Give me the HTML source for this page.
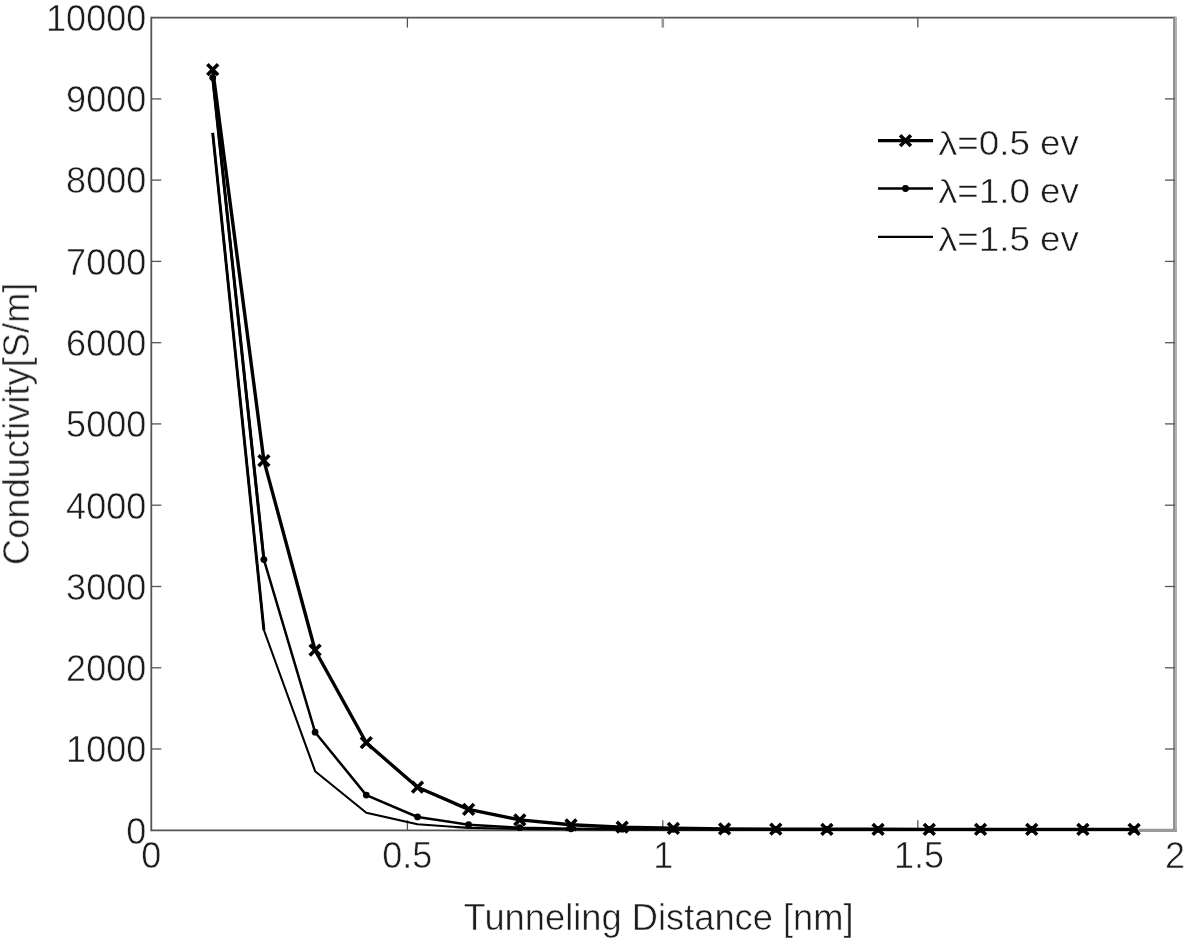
<!DOCTYPE html><html><head><meta charset="utf-8"><title>Conductivity vs Tunneling Distance</title>
<style>html,body{margin:0;padding:0;background:#fff}svg{display:block}text{font-family:"Liberation Sans",sans-serif;fill:#1c1c1c;stroke:#fff;stroke-width:0.55px}</style></head><body>
<svg width="1189" height="940" viewBox="0 0 1189 940">
<defs><filter id="soft" x="0" y="0" width="100%" height="100%" filterUnits="userSpaceOnUse" color-interpolation-filters="sRGB"><feGaussianBlur stdDeviation="0.55"/></filter></defs>
<rect width="1189" height="940" fill="#fff"/>
<g filter="url(#soft)">
<g stroke="#555" stroke-width="1.8" fill="none">
<line x1="151.3" y1="17.6" x2="1176.0" y2="17.6"/>
<line x1="151.3" y1="16.7" x2="151.3" y2="831.2"/>
<line x1="151.3" y1="830.3" x2="1176.0" y2="830.3"/>
</g>
<line x1="1174.1" y1="16.7" x2="1174.1" y2="831.7" stroke="#8a8a8a" stroke-width="2"/>
<line x1="1176.0" y1="16.7" x2="1176.0" y2="831.7" stroke="#b2b2b2" stroke-width="2"/>
<line x1="1139" y1="830.4" x2="1177.0" y2="830.4" stroke="#9a9a9a" stroke-width="3.2"/>
<g stroke="#555" stroke-width="1.3">
<line x1="151.3" y1="749.0" x2="161.3" y2="749.0"/>
<line x1="1175.0" y1="749.0" x2="1165.0" y2="749.0"/>
<line x1="151.3" y1="667.8" x2="161.3" y2="667.8"/>
<line x1="1175.0" y1="667.8" x2="1165.0" y2="667.8"/>
<line x1="151.3" y1="586.5" x2="161.3" y2="586.5"/>
<line x1="1175.0" y1="586.5" x2="1165.0" y2="586.5"/>
<line x1="151.3" y1="505.2" x2="161.3" y2="505.2"/>
<line x1="1175.0" y1="505.2" x2="1165.0" y2="505.2"/>
<line x1="151.3" y1="423.9" x2="161.3" y2="423.9"/>
<line x1="1175.0" y1="423.9" x2="1165.0" y2="423.9"/>
<line x1="151.3" y1="342.7" x2="161.3" y2="342.7"/>
<line x1="1175.0" y1="342.7" x2="1165.0" y2="342.7"/>
<line x1="151.3" y1="261.4" x2="161.3" y2="261.4"/>
<line x1="1175.0" y1="261.4" x2="1165.0" y2="261.4"/>
<line x1="151.3" y1="180.1" x2="161.3" y2="180.1"/>
<line x1="1175.0" y1="180.1" x2="1165.0" y2="180.1"/>
<line x1="151.3" y1="98.9" x2="161.3" y2="98.9"/>
<line x1="1175.0" y1="98.9" x2="1165.0" y2="98.9"/>
<line x1="407.4" y1="830.3" x2="407.4" y2="820.3"/>
<line x1="407.4" y1="17.6" x2="407.4" y2="27.6"/>
<line x1="662.8" y1="830.3" x2="662.8" y2="820.3"/>
<line x1="662.8" y1="17.6" x2="662.8" y2="27.6" stroke="#999" stroke-width="2.6"/>
<line x1="917.8" y1="830.3" x2="917.8" y2="820.3"/>
<line x1="917.8" y1="17.6" x2="917.8" y2="27.6"/>
</g>
<g font-size="37" text-anchor="end">
<text transform="translate(146.2,843.6) scale(0.973,1)">0</text>
<text transform="translate(146.2,762.3) scale(0.973,1)">1000</text>
<text transform="translate(146.2,681.1) scale(0.973,1)">2000</text>
<text transform="translate(146.2,599.8) scale(0.973,1)">3000</text>
<text transform="translate(146.2,518.5) scale(0.973,1)">4000</text>
<text transform="translate(146.2,437.2) scale(0.973,1)">5000</text>
<text transform="translate(146.2,356.0) scale(0.973,1)">6000</text>
<text transform="translate(146.2,274.7) scale(0.973,1)">7000</text>
<text transform="translate(146.2,193.4) scale(0.973,1)">8000</text>
<text transform="translate(146.2,112.2) scale(0.973,1)">9000</text>
<text transform="translate(146.2,30.9) scale(0.973,1)">10000</text>
</g>
<g font-size="37" text-anchor="middle">
<text transform="translate(151.3,868) scale(0.973,1)">0</text>
<text transform="translate(407.2,868) scale(0.973,1)">0.5</text>
<text transform="translate(663.2,868) scale(0.973,1)">1</text>
<text transform="translate(919.1,868) scale(0.973,1)">1.5</text>
<text transform="translate(1175.0,868) scale(0.973,1)">2</text>
</g>
<text x="658.6" y="930" font-size="36.3" text-anchor="middle">Tunneling Distance [nm]</text>
<text transform="translate(29,423.8) rotate(-90)" font-size="36.3" text-anchor="middle">Conductivity[S/m]</text>
<g fill="none" stroke="#000" stroke-linejoin="round">
<polyline stroke-width="2.1" points="212.7,132.9 263.9,630.0 315.1,771.2 366.3,812.8 417.5,824.2 468.6,827.9 519.8,829.0 571.0,829.3 622.2,829.4 673.4,829.4 724.6,829.4 775.8,829.4 826.9,829.4 878.1,829.4 929.3,829.4 980.5,829.4 1031.7,829.4 1082.9,829.4 1134.1,829.4"/>
<line stroke-width="2.9" x1="212.7" y1="132.9" x2="263.9" y2="630.0"/>
<line stroke-width="3.0" x1="212.7" y1="77.6" x2="263.9" y2="559.6"/>
<polyline stroke-width="2.5" points="212.7,77.6 263.9,559.6 315.1,732.2 366.3,795.1 417.5,817.0 468.6,824.7 519.8,827.7 571.0,828.8 622.2,829.2 673.4,829.3 724.6,829.4 775.8,829.4 826.9,829.4 878.1,829.4 929.3,829.4 980.5,829.4 1031.7,829.4 1082.9,829.4 1134.1,829.4"/>
<polyline stroke-width="3.4" points="212.7,69.6 263.9,460.6 315.1,650.2 366.3,742.7 417.5,787.2 468.6,809.4 519.8,819.9 571.0,824.8 622.2,827.2 673.4,828.3 724.6,828.9 775.8,829.1 826.9,829.3 878.1,829.3 929.3,829.4 980.5,829.4 1031.7,829.4 1082.9,829.4 1134.1,829.4"/>
</g>
<circle cx="212.7" cy="77.6" r="3.4" fill="#000"/>
<circle cx="263.9" cy="559.6" r="3.4" fill="#000"/>
<circle cx="315.1" cy="732.2" r="3.4" fill="#000"/>
<circle cx="366.3" cy="795.1" r="3.4" fill="#000"/>
<circle cx="417.5" cy="817.0" r="3.4" fill="#000"/>
<circle cx="468.6" cy="824.7" r="3.4" fill="#000"/>
<circle cx="519.8" cy="827.7" r="3.4" fill="#000"/>
<circle cx="571.0" cy="828.8" r="3.4" fill="#000"/>
<circle cx="622.2" cy="829.2" r="3.4" fill="#000"/>
<circle cx="673.4" cy="829.3" r="3.4" fill="#000"/>
<circle cx="724.6" cy="829.4" r="3.4" fill="#000"/>
<circle cx="775.8" cy="829.4" r="3.4" fill="#000"/>
<circle cx="826.9" cy="829.4" r="3.4" fill="#000"/>
<circle cx="878.1" cy="829.4" r="3.4" fill="#000"/>
<circle cx="929.3" cy="829.4" r="3.4" fill="#000"/>
<circle cx="980.5" cy="829.4" r="3.4" fill="#000"/>
<circle cx="1031.7" cy="829.4" r="3.4" fill="#000"/>
<circle cx="1082.9" cy="829.4" r="3.4" fill="#000"/>
<circle cx="1134.1" cy="829.4" r="3.4" fill="#000"/>
<path d="M207.3 64.2L218.1 75.0M207.3 75.0L218.1 64.2" stroke="#000" stroke-width="3.6" fill="none"/>
<path d="M258.5 455.2L269.3 466.0M258.5 466.0L269.3 455.2" stroke="#000" stroke-width="3.6" fill="none"/>
<path d="M309.7 644.8L320.5 655.6M309.7 655.6L320.5 644.8" stroke="#000" stroke-width="3.6" fill="none"/>
<path d="M360.9 737.3L371.7 748.1M360.9 748.1L371.7 737.3" stroke="#000" stroke-width="3.6" fill="none"/>
<path d="M412.1 781.8L422.9 792.6M412.1 792.6L422.9 781.8" stroke="#000" stroke-width="3.6" fill="none"/>
<path d="M463.2 804.0L474.0 814.8M463.2 814.8L474.0 804.0" stroke="#000" stroke-width="3.6" fill="none"/>
<path d="M514.4 814.5L525.2 825.3M514.4 825.3L525.2 814.5" stroke="#000" stroke-width="3.6" fill="none"/>
<path d="M565.6 819.4L576.4 830.2M565.6 830.2L576.4 819.4" stroke="#000" stroke-width="3.6" fill="none"/>
<path d="M616.8 821.8L627.6 832.6M616.8 832.6L627.6 821.8" stroke="#000" stroke-width="3.6" fill="none"/>
<path d="M668.0 822.9L678.8 833.7M668.0 833.7L678.8 822.9" stroke="#000" stroke-width="3.6" fill="none"/>
<path d="M719.2 823.5L730.0 834.3M719.2 834.3L730.0 823.5" stroke="#000" stroke-width="3.6" fill="none"/>
<path d="M770.4 823.7L781.2 834.5M770.4 834.5L781.2 823.7" stroke="#000" stroke-width="3.6" fill="none"/>
<path d="M821.5 823.9L832.3 834.7M821.5 834.7L832.3 823.9" stroke="#000" stroke-width="3.6" fill="none"/>
<path d="M872.7 823.9L883.5 834.7M872.7 834.7L883.5 823.9" stroke="#000" stroke-width="3.6" fill="none"/>
<path d="M923.9 824.0L934.7 834.8M923.9 834.8L934.7 824.0" stroke="#000" stroke-width="3.6" fill="none"/>
<path d="M975.1 824.0L985.9 834.8M975.1 834.8L985.9 824.0" stroke="#000" stroke-width="3.6" fill="none"/>
<path d="M1026.3 824.0L1037.1 834.8M1026.3 834.8L1037.1 824.0" stroke="#000" stroke-width="3.6" fill="none"/>
<path d="M1077.5 824.0L1088.3 834.8M1077.5 834.8L1088.3 824.0" stroke="#000" stroke-width="3.6" fill="none"/>
<path d="M1128.7 824.0L1139.5 834.8M1128.7 834.8L1139.5 824.0" stroke="#000" stroke-width="3.6" fill="none"/>
<g stroke="#000" fill="none">
<line x1="878" y1="140.7" x2="933" y2="140.7" stroke-width="3.3"/>
<line x1="878" y1="188.5" x2="933" y2="188.5" stroke-width="2.3"/>
<line x1="878" y1="236.8" x2="933" y2="236.8" stroke-width="2.3"/>
</g>
<path d="M900.1 135.3L910.9 146.1M900.1 146.1L910.9 135.3" stroke="#000" stroke-width="3.6" fill="none"/>
<circle cx="905.5" cy="188.5" r="3.4" fill="#000"/>
<g font-size="36">
<text transform="translate(938.2,155.2) scale(1.16,1)" font-family="Liberation Serif, serif" font-size="33">λ</text>
<text transform="translate(957.3,155.0) scale(1.022,1)">=0.5 ev</text>
<text transform="translate(938.2,203.0) scale(1.16,1)" font-family="Liberation Serif, serif" font-size="33">λ</text>
<text transform="translate(957.3,202.8) scale(1.022,1)">=1.0 ev</text>
<text transform="translate(938.2,251.3) scale(1.16,1)" font-family="Liberation Serif, serif" font-size="33">λ</text>
<text transform="translate(957.3,251.1) scale(1.022,1)">=1.5 ev</text>
</g>
</g>
</svg></body></html>
